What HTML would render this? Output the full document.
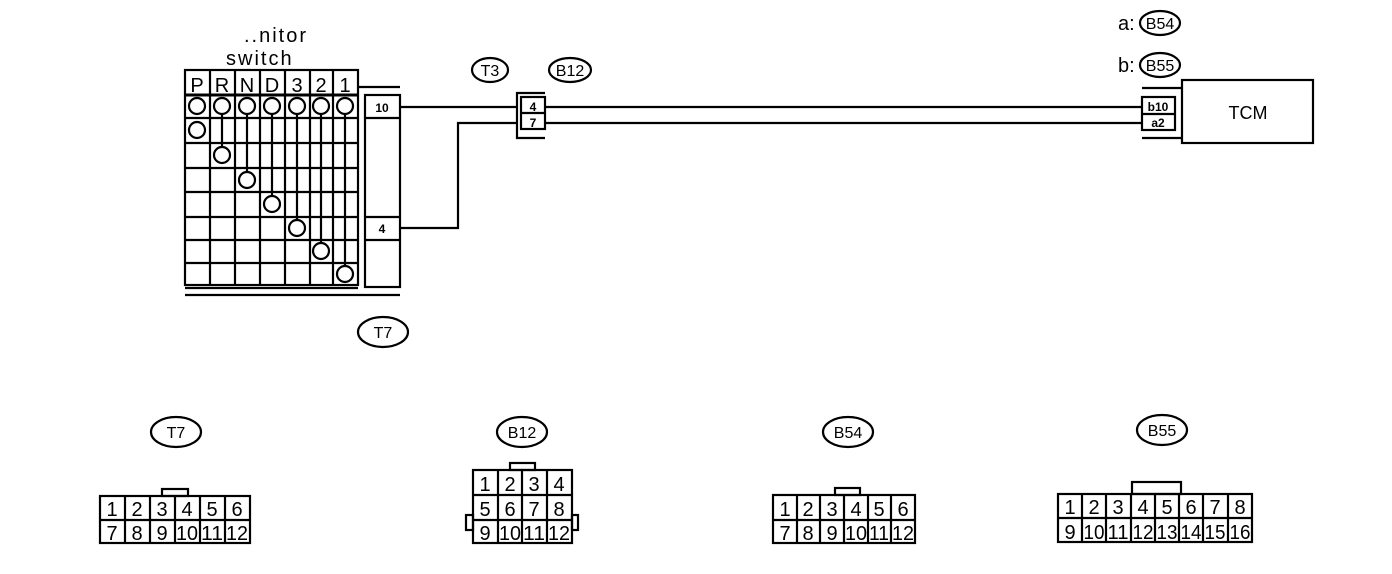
<!DOCTYPE html>
<html><head><meta charset="utf-8"><style>
html,body{margin:0;padding:0;background:#fff;}
svg{display:block;}
text{font-family:"Liberation Sans",sans-serif;fill:#000;}
.n{font-size:20px;}
.s{font-size:12px;font-weight:bold;}
</style></head><body>
<svg width="1392" height="574" viewBox="0 0 1392 574" xmlns="http://www.w3.org/2000/svg">
<g fill="none" stroke="#000" stroke-width="2.2">
<rect x="185" y="70" width="173" height="215"/>
<line x1="185" y1="95" x2="358" y2="95" stroke-width="3"/>
<line x1="185" y1="118" x2="358" y2="118"/>
<line x1="185" y1="143" x2="358" y2="143"/>
<line x1="185" y1="168" x2="358" y2="168"/>
<line x1="185" y1="192" x2="358" y2="192"/>
<line x1="185" y1="217" x2="358" y2="217"/>
<line x1="185" y1="240" x2="358" y2="240"/>
<line x1="185" y1="263" x2="358" y2="263"/>
<line x1="210" y1="70" x2="210" y2="285"/>
<line x1="235" y1="70" x2="235" y2="285"/>
<line x1="260" y1="70" x2="260" y2="285"/>
<line x1="285" y1="70" x2="285" y2="285"/>
<line x1="310" y1="70" x2="310" y2="285"/>
<line x1="333" y1="70" x2="333" y2="285"/>
<line x1="185" y1="288" x2="358" y2="288"/>
<line x1="185" y1="295" x2="400" y2="295"/>
<line x1="358" y1="87" x2="400" y2="87"/>
<g fill="#fff">
<circle cx="197" cy="106" r="8"/><circle cx="222" cy="106" r="8"/><circle cx="247" cy="106" r="8"/><circle cx="272" cy="106" r="8"/><circle cx="297" cy="106" r="8"/><circle cx="321" cy="106" r="8"/><circle cx="345" cy="106" r="8"/>
</g>
<line x1="222" y1="114" x2="222" y2="147"/>
<line x1="247" y1="114" x2="247" y2="172"/>
<line x1="272" y1="114" x2="272" y2="196"/>
<line x1="297" y1="114" x2="297" y2="220"/>
<line x1="321" y1="114" x2="321" y2="243"/>
<line x1="345" y1="114" x2="345" y2="266"/>
<g fill="#fff">
<circle cx="197" cy="130" r="8"/><circle cx="222" cy="155" r="8"/><circle cx="247" cy="180" r="8"/><circle cx="272" cy="204" r="8"/><circle cx="297" cy="228" r="8"/><circle cx="321" cy="251" r="8"/><circle cx="345" cy="274" r="8"/>
</g>
<rect x="365" y="95" width="35" height="192"/>
<line x1="365" y1="118" x2="400" y2="118"/>
<line x1="365" y1="217" x2="400" y2="217"/>
<line x1="365" y1="240" x2="400" y2="240"/>
<line x1="400" y1="107" x2="517" y2="107"/>
<polyline points="400,228 458,228 458,123 517,123"/>
<line x1="545" y1="107" x2="1142" y2="107"/>
<line x1="545" y1="123" x2="1142" y2="123"/>
<polyline points="545,93 517,93 517,138 545,138"/>
<rect x="521" y="97" width="24" height="32"/>
<line x1="521" y1="113" x2="545" y2="113"/>
<rect x="1182" y="80" width="131" height="63"/>
<rect x="1142" y="97" width="33" height="33"/>
<line x1="1142" y1="114" x2="1175" y2="114"/>
<line x1="1142" y1="88" x2="1182" y2="88"/>
<line x1="1142" y1="138" x2="1182" y2="138"/>
<ellipse cx="490" cy="70" rx="18" ry="12"/>
<ellipse cx="570" cy="70" rx="21" ry="12"/>
<ellipse cx="1160" cy="23" rx="20" ry="12"/>
<ellipse cx="1160" cy="65" rx="20" ry="12"/>
<ellipse cx="383" cy="332" rx="25" ry="15"/>
<ellipse cx="176" cy="432" rx="25" ry="15"/>
<ellipse cx="522" cy="432" rx="25" ry="15"/>
<ellipse cx="848" cy="432" rx="25" ry="15"/>
<ellipse cx="1162" cy="430" rx="25" ry="15"/>
<rect x="162" y="489" width="26" height="7"/>
<rect x="100" y="496" width="150" height="47"/>
<line x1="100" y1="520" x2="250" y2="520"/>
<line x1="125" y1="496" x2="125" y2="543"/><line x1="150" y1="496" x2="150" y2="543"/><line x1="175" y1="496" x2="175" y2="543"/><line x1="200" y1="496" x2="200" y2="543"/><line x1="225" y1="496" x2="225" y2="543"/>
<rect x="510" y="463" width="25" height="7"/>
<rect x="466" y="515" width="7" height="15"/>
<rect x="572" y="515" width="6" height="15"/>
<rect x="473" y="470" width="99" height="73"/>
<line x1="473" y1="495" x2="572" y2="495"/><line x1="473" y1="520" x2="572" y2="520"/>
<line x1="498" y1="470" x2="498" y2="543"/><line x1="522" y1="470" x2="522" y2="543"/><line x1="547" y1="470" x2="547" y2="543"/>
<rect x="835" y="488" width="25" height="7"/>
<rect x="773" y="495" width="142" height="48"/>
<line x1="773" y1="520" x2="915" y2="520"/>
<line x1="797" y1="495" x2="797" y2="543"/><line x1="820" y1="495" x2="820" y2="543"/><line x1="844" y1="495" x2="844" y2="543"/><line x1="868" y1="495" x2="868" y2="543"/><line x1="891" y1="495" x2="891" y2="543"/>
<rect x="1132" y="482" width="49" height="12"/>
<rect x="1058" y="494" width="194" height="48"/>
<line x1="1058" y1="518" x2="1252" y2="518"/>
<line x1="1082" y1="494" x2="1082" y2="542"/><line x1="1106" y1="494" x2="1106" y2="542"/><line x1="1131" y1="494" x2="1131" y2="542"/><line x1="1155" y1="494" x2="1155" y2="542"/><line x1="1179" y1="494" x2="1179" y2="542"/><line x1="1203" y1="494" x2="1203" y2="542"/><line x1="1228" y1="494" x2="1228" y2="542"/>
</g>
<text x="244" y="42" font-size="20" letter-spacing="2">..nitor</text>
<text x="226" y="65" font-size="20" letter-spacing="2">switch</text>
<g class="n" text-anchor="middle" font-size="21">
<text x="197" y="92">P</text><text x="222" y="92">R</text><text x="247" y="92">N</text><text x="272" y="92">D</text><text x="297" y="92">3</text><text x="321" y="92">2</text><text x="345" y="92">1</text>
</g>
<text x="382" y="112" class="s" text-anchor="middle">10</text>
<text x="382" y="233" class="s" text-anchor="middle">4</text>
<text x="533" y="111" class="s" text-anchor="middle">4</text>
<text x="533" y="127" class="s" text-anchor="middle">7</text>
<text x="1158" y="111" class="s" text-anchor="middle">b10</text>
<text x="1158" y="127" class="s" text-anchor="middle">a2</text>
<text x="1248" y="119" font-size="18" text-anchor="middle">TCM</text>
<g font-size="16" text-anchor="middle">
<text x="490" y="76">T3</text><text x="570" y="76">B12</text>
<text x="1160" y="29">B54</text><text x="1160" y="71">B55</text>
<text x="383" y="338">T7</text><text x="176" y="438">T7</text><text x="522" y="438">B12</text><text x="848" y="438">B54</text><text x="1162" y="436">B55</text>
</g>
<text x="1118" y="30" font-size="20">a:</text>
<text x="1118" y="72" font-size="20">b:</text>
<g class="n" text-anchor="middle" font-size="21">
<text x="112" y="516">1</text><text x="137" y="516">2</text><text x="162" y="516">3</text><text x="187" y="516">4</text><text x="212" y="516">5</text><text x="237" y="516">6</text>
<text x="112" y="540">7</text><text x="137" y="540">8</text><text x="162" y="540">9</text><text x="187" y="540" textLength="22" lengthAdjust="spacingAndGlyphs">10</text><text x="212" y="540" textLength="22" lengthAdjust="spacingAndGlyphs">11</text><text x="237" y="540" textLength="22" lengthAdjust="spacingAndGlyphs">12</text>
<text x="485" y="491">1</text><text x="510" y="491">2</text><text x="534" y="491">3</text><text x="559" y="491">4</text>
<text x="485" y="516">5</text><text x="510" y="516">6</text><text x="534" y="516">7</text><text x="559" y="516">8</text>
<text x="485" y="540">9</text><text x="510" y="540" textLength="22" lengthAdjust="spacingAndGlyphs">10</text><text x="534" y="540" textLength="22" lengthAdjust="spacingAndGlyphs">11</text><text x="559" y="540" textLength="22" lengthAdjust="spacingAndGlyphs">12</text>
<text x="785" y="516">1</text><text x="808" y="516">2</text><text x="832" y="516">3</text><text x="856" y="516">4</text><text x="879" y="516">5</text><text x="903" y="516">6</text>
<text x="785" y="540">7</text><text x="808" y="540">8</text><text x="832" y="540">9</text><text x="856" y="540" textLength="22" lengthAdjust="spacingAndGlyphs">10</text><text x="879" y="540" textLength="20" lengthAdjust="spacingAndGlyphs">11</text><text x="903" y="540" textLength="22" lengthAdjust="spacingAndGlyphs">12</text>
<text x="1070" y="514">1</text><text x="1094" y="514">2</text><text x="1118" y="514">3</text><text x="1143" y="514">4</text><text x="1167" y="514">5</text><text x="1191" y="514">6</text><text x="1215" y="514">7</text><text x="1240" y="514">8</text>
<text x="1070" y="539">9</text><text x="1094" y="539" textLength="21" lengthAdjust="spacingAndGlyphs">10</text><text x="1118" y="539" textLength="21" lengthAdjust="spacingAndGlyphs">11</text><text x="1143" y="539" textLength="21" lengthAdjust="spacingAndGlyphs">12</text><text x="1167" y="539" textLength="21" lengthAdjust="spacingAndGlyphs">13</text><text x="1191" y="539" textLength="21" lengthAdjust="spacingAndGlyphs">14</text><text x="1215" y="539" textLength="21" lengthAdjust="spacingAndGlyphs">15</text><text x="1240" y="539" textLength="21" lengthAdjust="spacingAndGlyphs">16</text>
</g>
</svg>
</body></html>
